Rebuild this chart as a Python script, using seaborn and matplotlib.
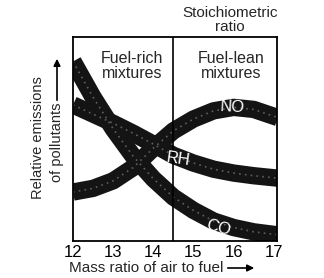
import matplotlib
matplotlib.use("Agg")
import matplotlib.pyplot as plt
import seaborn as sns
import pandas as pd

# ---- data ----
air_fuel_ratio = [12.0, 12.5, 13.0, 13.5, 14.0, 14.5, 15.0, 15.5, 16.0, 16.5, 17.1]
co_emission = [8.8, 7.05, 5.5, 4.15, 3.05, 2.15, 1.5, 0.98, 0.66, 0.45, 0.3]
rh_emission = [6.67, 6.22, 5.77, 5.28, 4.75, 4.2, 3.82, 3.52, 3.33, 3.2, 3.08]
no_emission = [2.4, 2.58, 2.95, 3.6, 4.55, 5.4, 5.98, 6.38, 6.55, 6.45, 6.05]
pollutants = ["CO", "RH", "NO"]
stoichiometric_ratio = 14.5
x_ticks = [12, 13, 14, 15, 16, 17]

rows = []
for name, vals in zip(pollutants, [co_emission, rh_emission, no_emission]):
    for x, y in zip(air_fuel_ratio, vals):
        rows.append({"ratio": x, "emission": y, "pollutant": name})
df = pd.DataFrame(rows)

sns.set_style("white")
plt.rcParams["font.family"] = ["Liberation Sans", "DejaVu Sans"]

fig = plt.figure(figsize=(3.24, 2.78), dpi=100)
ax = fig.add_axes([73 / 324, 37 / 278, 204 / 324, 204 / 278])

sns.lineplot(data=df, x="ratio", y="emission", hue="pollutant",
             palette={"CO": "#141414", "RH": "#141414", "NO": "#141414"},
             linewidth=12.5, legend=False, ax=ax, solid_capstyle="butt")
# speckled texture hint inside the bands
sns.lineplot(data=df, x="ratio", y="emission", hue="pollutant",
             palette={"CO": "#5e5e5e", "RH": "#5e5e5e", "NO": "#5e5e5e"},
             linewidth=1.2, linestyle=(0, (1, 2.5)), legend=False, ax=ax)

ax.axvline(stoichiometric_ratio, color="black", lw=1.2)

ax.set_xlim(12, 17.08)
ax.set_ylim(0, 10)
ax.set_xticks(x_ticks)
ax.set_xticklabels([str(t) for t in x_ticks], fontsize=12)
ax.set_yticks([])
ax.tick_params(axis="x", direction="in", length=4, width=1, pad=3, colors="black")
for s in ax.spines.values():
    s.set_visible(True)
    s.set_color("black")
    s.set_linewidth(1.3)
ax.set_xlabel("")
ax.set_ylabel("")

# band labels
ax.text(15.96, 6.57, "NO", color="white", fontsize=12, ha="center", va="center", rotation=-3)
ax.text(14.62, 4.02, "RH", color="white", fontsize=12, ha="center", va="center", rotation=-8)
ax.text(15.63, 0.62, "CO", color="white", fontsize=12, ha="center", va="center", rotation=-15)

ax.text(0.289, 0.858, "Fuel-rich\nmixtures", transform=ax.transAxes, ha="center",
        va="center", fontsize=11.5, linespacing=1.05)
ax.text(0.775, 0.858, "Fuel-lean\nmixtures", transform=ax.transAxes, ha="center",
        va="center", fontsize=11.5, linespacing=1.05)

fig.text(230 / 324, 1 - 20 / 278, "Stoichiometric\nratio", ha="center", va="center",
         fontsize=11, linespacing=1.0)

# x label with arrow
fig.text(69 / 324, 1 - 268 / 278, "Mass ratio of air to fuel", ha="left", va="center", fontsize=11)
fig.add_artist(matplotlib.patches.FancyArrowPatch(
    (225 / 324, 1 - 268 / 278), (257 / 324, 1 - 268 / 278),
    transform=fig.transFigure, arrowstyle="-|>", mutation_scale=10, color="black", lw=1.2))

# y label with arrow
fig.text(38 / 324, 1 - 138 / 278, "Relative emissions", rotation=90, ha="center",
         va="center", fontsize=10.5)
fig.text(57 / 324, 1 - 142 / 278, "of pollutants", rotation=90, ha="center",
         va="center", fontsize=10.5)
fig.add_artist(matplotlib.patches.FancyArrowPatch(
    (57 / 324, 1 - 103 / 278), (57 / 324, 1 - 56 / 278),
    transform=fig.transFigure, arrowstyle="-|>", mutation_scale=10, color="black", lw=1.2))

fig.savefig("out.png", dpi=100)
